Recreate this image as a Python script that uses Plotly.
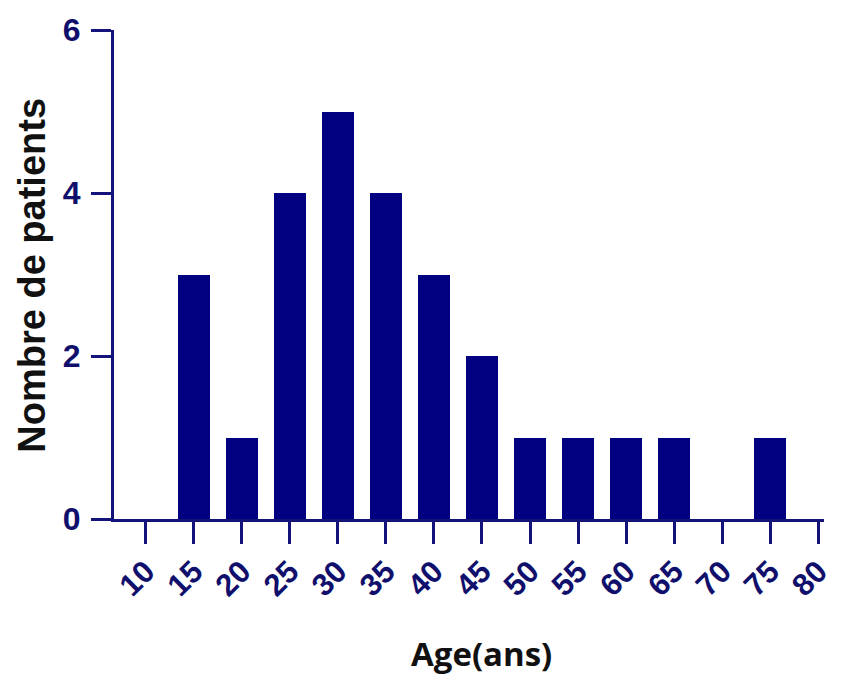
import plotly.graph_objects as go

ages = [10, 15, 20, 25, 30, 35, 40, 45, 50, 55, 60, 65, 70, 75, 80]
patients = [0, 3, 1, 4, 5, 4, 3, 2, 1, 1, 1, 1, 0, 1, 0]
y_ticks = [0, 2, 4, 6]
x_title = "Age(ans)"
y_title = "Nombre de patients"

navy = "#000080"
axis_col = "#13137a"
text_col = "#10106c"

fig = go.Figure()
fig.add_trace(go.Bar(
    x=ages, y=patients, width=3.3,
    marker=dict(color=navy, line=dict(width=0)),
))

W, H = 846, 680
ml, mr, mt, mb = 114, 16, 26, 161
fig.update_layout(
    width=W, height=H,
    margin=dict(l=ml, r=mr, t=mt, b=mb, pad=0),
    plot_bgcolor="white", paper_bgcolor="white",
    showlegend=False,
    bargap=0,
)
fig.update_xaxes(
    range=[6.7, 80.6], tickmode="array", tickvals=ages,
    ticktext=[str(a) for a in ages],
    showgrid=False, zeroline=False,
    showline=True, linecolor=axis_col, linewidth=3,
    ticks="outside", ticklen=22, tickwidth=3, tickcolor=axis_col,
    tickangle=-45,
    tickfont=dict(family="Liberation Sans, Arial", size=31, color=text_col, weight="bold"),
    ticklabelstandoff=-3,
)
fig.update_yaxes(
    range=[0, 6], tickmode="array", tickvals=y_ticks,
    showgrid=False, zeroline=False,
    showline=True, linecolor=axis_col, linewidth=3,
    ticks="outside", ticklen=20, tickwidth=3, tickcolor=axis_col,
    tickfont=dict(family="Liberation Sans, Arial", size=32, color=text_col, weight="bold"),
    ticklabelstandoff=4,
)
pw = W - ml - mr
ph = H - mt - mb
fig.add_annotation(
    text=y_title, xref="paper", yref="paper",
    x=(31 - ml) / pw, y=(H - mb - 273) / ph,
    xanchor="center", yanchor="middle", showarrow=False, textangle=-90,
    font=dict(family="Liberation Sans, Arial", size=38, color="#111111", weight="bold"),
)
fig.add_annotation(
    text=x_title, xref="paper", yref="paper",
    x=(485 - ml) / pw, y=-(679 - (H - mb)) / ph,
    xanchor="center", yanchor="bottom", showarrow=False,
    font=dict(family="Open Sans", size=33, color="#111111", weight="bold"),
)
fig.write_html("out.html")
